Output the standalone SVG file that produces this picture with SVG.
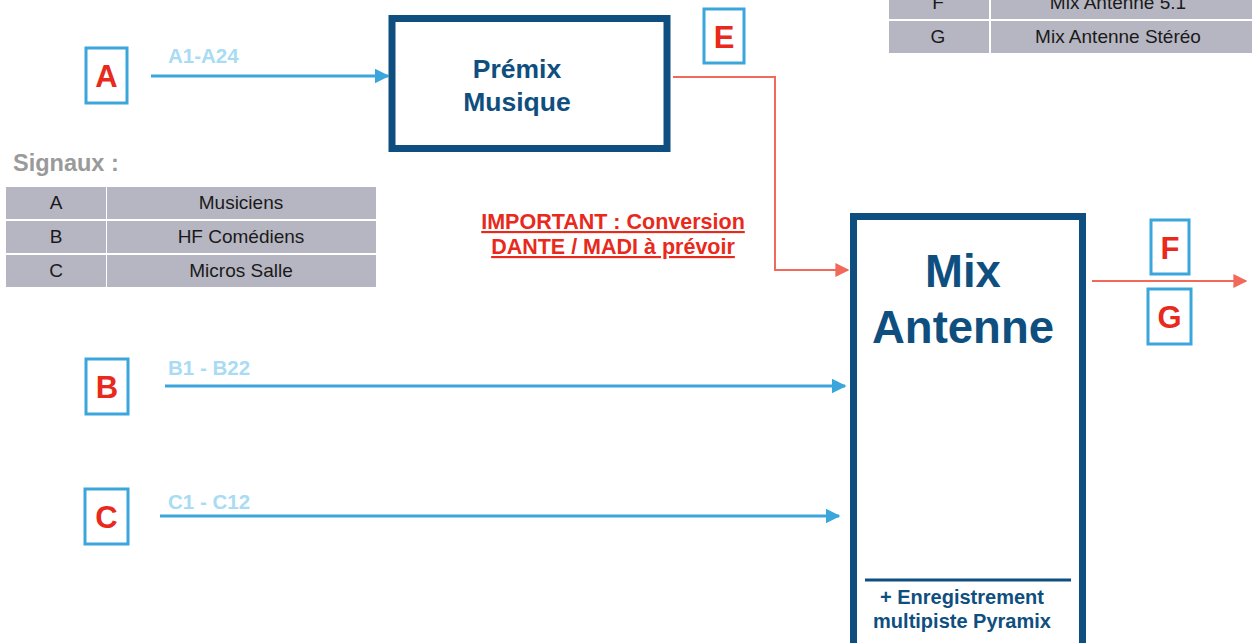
<svg xmlns="http://www.w3.org/2000/svg" width="1252" height="643" viewBox="0 0 1252 643">
  <defs>
    <style>
      text { font-family: "Liberation Sans", Arial, sans-serif; }
      .tag { fill: #fff; stroke: #3aa6dc; stroke-width: 3; }
      .tagtxt { fill: #e8291c; font-weight: bold; font-size: 31px; text-anchor: middle; }
      .block { fill: #fff; stroke: #0f4f80; stroke-width: 7; }
      .blocktxt { fill: #0f4f80; font-weight: bold; text-anchor: middle; }
      .blue { stroke: #3aa6dc; stroke-width: 3; fill: none; }
      .red { stroke: #f0695a; stroke-width: 2; fill: none; }
      .chan { fill: #a9dcf4; font-weight: bold; font-size: 20.5px; }
      .cell { fill: #b6b6c2; }
      .celltxt { fill: #1a1a1a; font-size: 19px; text-anchor: middle; }
    </style>
    <marker id="arrBlue" viewBox="0 0 10 10" refX="9" refY="5" markerWidth="5" markerHeight="5" orient="auto" markerUnits="strokeWidth">
      <path d="M0,0 L10,5 L0,10 z" fill="#3aa6dc"/>
    </marker>
    <marker id="arrRed" viewBox="0 0 10 10" refX="9" refY="5" markerWidth="7" markerHeight="7" orient="auto" markerUnits="strokeWidth">
      <path d="M0,0 L10,5 L0,10 z" fill="#f0695a"/>
    </marker>
  </defs>

  <rect width="1252" height="643" fill="#fff"/>

  <!-- connectors -->
  <g id="connectors">
    <line class="blue" x1="151" y1="76" x2="388" y2="76" marker-end="url(#arrBlue)"/>
    <line class="blue" x1="165" y1="386" x2="845" y2="386" marker-end="url(#arrBlue)"/>
    <line class="blue" x1="160" y1="516" x2="839" y2="516" marker-end="url(#arrBlue)"/>
    <polyline class="red" points="673,77 775,77 775,270 848,270" marker-end="url(#arrRed)"/>
    <line class="red" x1="1092" y1="281" x2="1246" y2="281" marker-end="url(#arrRed)"/>
    <text class="chan" x="168" y="63">A1-A24</text>
    <text class="chan" x="168" y="375">B1 - B22</text>
    <text class="chan" x="168" y="509">C1 - C12</text>
  </g>

  <!-- signal tags -->
  <g id="tagA"><rect class="tag" x="86" y="48" width="41" height="55"/><text class="tagtxt" x="106.5" y="87">A</text></g>
  <g id="tagB"><rect class="tag" x="86" y="359" width="42" height="55"/><text class="tagtxt" x="107" y="398">B</text></g>
  <g id="tagC"><rect class="tag" x="85" y="489" width="43" height="55"/><text class="tagtxt" x="106.5" y="528">C</text></g>
  <g id="tagE"><rect class="tag" x="704" y="9" width="40" height="54"/><text class="tagtxt" x="724" y="48">E</text></g>
  <g id="tagF"><rect class="tag" x="1151" y="220" width="38" height="54"/><text class="tagtxt" x="1170" y="259">F</text></g>
  <g id="tagG"><rect class="tag" x="1148" y="289" width="43" height="55"/><text class="tagtxt" x="1169.5" y="328">G</text></g>

  <!-- processing blocks -->
  <g id="premix">
    <rect class="block" x="392" y="18.5" width="275" height="130"/>
    <text class="blocktxt" x="517" y="78" font-size="26.5">Prémix</text>
    <text class="blocktxt" x="517" y="111" font-size="26.5">Musique</text>
  </g>

  <g id="mixAntenne">
    <rect class="block" x="853.5" y="216.5" width="229" height="440"/>
    <text class="blocktxt" x="963" y="287" font-size="45.5">Mix</text>
    <text class="blocktxt" x="963" y="343" font-size="45.5">Antenne</text>
    <line x1="865" y1="580" x2="1071" y2="580" stroke="#0f4f80" stroke-width="3"/>
    <text class="blocktxt" x="962" y="604" font-size="20">+ Enregistrement</text>
    <text class="blocktxt" x="962" y="628" font-size="20">multipiste Pyramix</text>
  </g>

  <!-- note -->
  <g id="note">
    <text x="613" y="229" fill="#e8291c" font-weight="bold" font-size="21.5" text-anchor="middle" text-decoration="underline">IMPORTANT : Conversion</text>
    <text x="613" y="254" fill="#e8291c" font-weight="bold" font-size="21.5" text-anchor="middle" text-decoration="underline">DANTE / MADI à prévoir</text>
  </g>

  <!-- legend of input signals -->
  <g id="legendIn">
    <text x="13" y="171" fill="#9a9a9a" font-weight="bold" font-size="23.5">Signaux :</text>
    <rect class="cell" x="6" y="187" width="100" height="32"/>
    <rect class="cell" x="107" y="187" width="269" height="32"/>
    <rect class="cell" x="6" y="221" width="100" height="32"/>
    <rect class="cell" x="107" y="221" width="269" height="32"/>
    <rect class="cell" x="6" y="255" width="100" height="32"/>
    <rect class="cell" x="107" y="255" width="269" height="32"/>
    <text class="celltxt" x="56" y="209">A</text>
    <text class="celltxt" x="241" y="209">Musiciens</text>
    <text class="celltxt" x="56" y="243">B</text>
    <text class="celltxt" x="241" y="243">HF Comédiens</text>
    <text class="celltxt" x="56" y="277">C</text>
    <text class="celltxt" x="241" y="277">Micros Salle</text>
  </g>

  <!-- legend of outputs -->
  <g id="legendOut">
    <rect class="cell" x="889" y="-14" width="100" height="33"/>
    <rect class="cell" x="991" y="-14" width="261" height="33"/>
    <rect class="cell" x="889" y="21" width="100" height="32"/>
    <rect class="cell" x="991" y="21" width="261" height="32"/>
    <text class="celltxt" x="938" y="9">F</text>
    <text class="celltxt" x="1118" y="9">Mix Antenne 5.1</text>
    <text class="celltxt" x="938" y="43">G</text>
    <text class="celltxt" x="1118" y="43">Mix Antenne Stéréo</text>
  </g>
</svg>
